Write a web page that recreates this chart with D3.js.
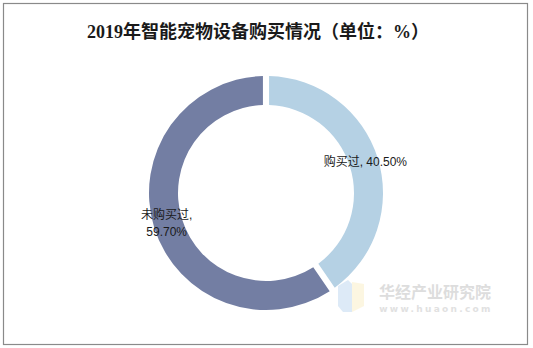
<!DOCTYPE html>
<html>
<head>
<meta charset="utf-8">
<script src="https://cdn.jsdelivr.net/npm/d3@7/dist/d3.min.js"></script>
<style>
  html, body { margin: 0; padding: 0; background: #fff; }
  svg { display: block; }
</style>
</head>
<body>
<svg id="chart" width="533" height="348"></svg>
<script>
// Purchase status of smart pet devices, 2019 (%)
const categories = ["购买过", "未购买过"];
const values = [40.50, 59.70];
const valueLabels = ["40.50%", "59.70%"];
const sliceColors = ["#b5d1e4", "#737ea3"];
const titleText = "2019年智能宠物设备购买情况（单位：%）";

const W = 533, H = 348;
const cx = 266, cy = 193;
const outerR = 117, innerR = 88;

const svg = d3.select("#chart");

// outer frame
svg.append("rect")
  .attr("x", 3.5).attr("y", 3.5)
  .attr("width", 524).attr("height", 341)
  .attr("fill", "#fff")
  .attr("stroke", "#8a8a8a")
  .attr("stroke-width", 1.2);

// title
svg.append("text")
  .attr("x", 258).attr("y", 32)
  .attr("text-anchor", "middle")
  .attr("dominant-baseline", "central")
  .attr("font-family", "'Liberation Serif', 'Noto Sans CJK SC', serif")
  .attr("font-weight", "bold")
  .attr("font-size", 18)
  .attr("fill", "#1a1a1a")
  .text(titleText);

const pie = d3.pie().sort(null).value(d => d)
  .startAngle(0).endAngle(2 * Math.PI);
const arcs = pie(values);

const arc = d3.arc()
  .innerRadius(innerR)
  .outerRadius(outerR)
  .padAngle(0.042);

const g = svg.append("g").attr("transform", `translate(${cx},${cy})`);

g.selectAll("path.slice")
  .data(arcs)
  .join("path")
  .attr("class", "slice")
  .attr("d", arc)
  .attr("fill", (d, i) => sliceColors[i]);

// watermark logo and text
const wm = svg.append("g").attr("opacity", 0.5);
wm.append("path")
  .attr("d", "M338,286 L348,280 L352,284 L352,312 L343,312 L338,306 Z")
  .attr("fill", "#bcd6f0");
wm.append("path")
  .attr("d", "M352,282 L364,284 L364,306 L352,312 Z")
  .attr("fill", "#fbefc4");
wm.append("text")
  .attr("x", 435).attr("y", 291)
  .attr("text-anchor", "middle")
  .attr("dominant-baseline", "central")
  .attr("font-family", "'Noto Sans CJK SC', sans-serif")
  .attr("font-weight", "bold")
  .attr("font-size", 16)
  .attr("fill", "#bdbdbd")
  .text("华经产业研究院");
wm.append("text")
  .attr("x", 436).attr("y", 308.5)
  .attr("text-anchor", "middle")
  .attr("dominant-baseline", "central")
  .attr("font-family", "'DejaVu Sans', sans-serif")
  .attr("font-weight", "bold")
  .attr("font-size", 9)
  .attr("letter-spacing", 2.3)
  .attr("fill", "#c4c4c4")
  .text("www.huaon.com");

// data labels at the ring centroid
const labelArc = d3.arc().innerRadius(104).outerRadius(104);
const labelFont = "'Liberation Sans', 'Noto Sans CJK SC', sans-serif";

arcs.forEach((d, i) => {
  const [lx, ly] = labelArc.centroid(d);
  const t = g.append("text")
    .attr("text-anchor", "middle")
    .attr("font-family", labelFont)
    .attr("font-size", 12)
    .attr("fill", "#1a1a1a");
  if (i === 0) {
    t.attr("x", lx).attr("y", ly)
      .attr("dominant-baseline", "central")
      .text(`${categories[i]}, ${valueLabels[i]}`);
  } else {
    t.attr("dominant-baseline", "central");
    t.append("tspan").attr("x", lx).attr("y", ly - 8.5)
      .text(`${categories[i]},`);
    t.append("tspan").attr("x", lx).attr("y", ly + 8.5)
      .text(valueLabels[i]);
  }
});
</script>
</body>
</html>
